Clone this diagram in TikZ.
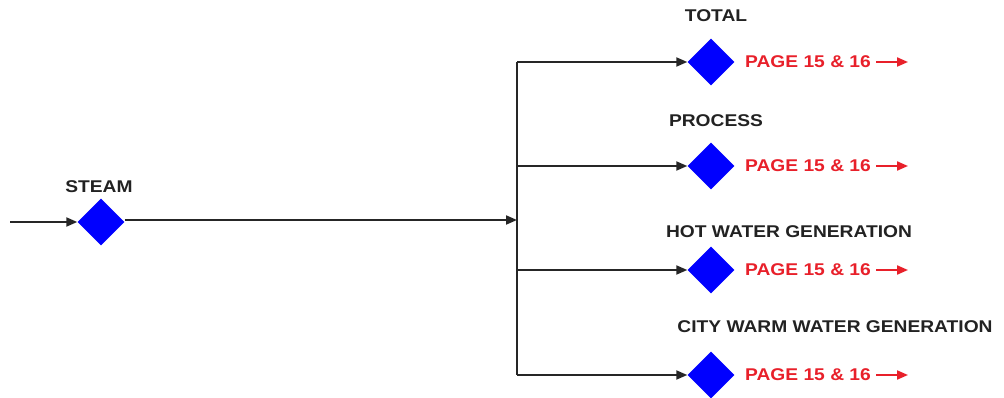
\documentclass[tikz,border=0pt]{standalone}
\usepackage{fontspec}
\setmainfont{Liberation Sans}
\newfontfamily\widesans[FakeStretch=1.13]{Liberation Sans}
\usetikzlibrary{shapes.geometric,arrows.meta}
\definecolor{dia}{HTML}{0000FF}
\definecolor{pg}{HTML}{E8202A}
\definecolor{lbl}{HTML}{222222}
\begin{document}
\begin{tikzpicture}[x=1pt,y=-1pt,
  meter/.style={diamond,fill=dia,draw=none,minimum width=47pt,minimum height=47pt,inner sep=0pt},
  lab/.style={text=lbl,font=\widesans\fontsize{17}{19}\selectfont\bfseries,inner sep=0pt},
  pagetxt/.style={text=pg,font=\widesans\fontsize{17}{19}\selectfont\bfseries,inner sep=0pt,anchor=west},
  flow/.style={draw=black!85,line width=2pt},
  arr/.style={flow,-{Triangle[length=11pt,width=9pt]}},
  redarr/.style={draw=pg,line width=2pt,-{Triangle[length=11pt,width=9pt]}}]
\useasboundingbox (0,0) rectangle (1004,398);
% steam
\coordinate (in) at (10,222);
\node[meter] (s) at (101,222) {};
\node[lab] (sl) at (99,187) {STEAM};
\draw[arr] (in) -- (s.west);
% bus
\coordinate (b0) at (517,62);
\coordinate (bm) at (517,220);
\coordinate (b1) at (517,166);
\coordinate (b2) at (517,270);
\coordinate (b3) at (517,375);
\draw[arr] (s.east |- bm) -- (bm);
\draw[flow] (b0) -- (b3);
% diamonds
\node[meter] (d1) at (711,62) {};
\node[meter] (d2) at (711,166) {};
\node[meter] (d3) at (711,270) {};
\node[meter] (d4) at (711,375) {};
\draw[arr] (b0) -- (d1.west);
\draw[arr] (b1) -- (d2.west);
\draw[arr] (b2) -- (d3.west);
\draw[arr] (b3) -- (d4.west);
% labels
\node[lab] (l1) at (716,16) {TOTAL};
\node[lab] (l2) at (716,121) {PROCESS};
\node[lab] (l3) at (789,232) {HOT WATER GENERATION};
\node[lab] (l4) at (835,327) {CITY WARM WATER GENERATION};
% page refs
\foreach \i/\y in {1/62,2/166,3/270,4/375}{
  \node[pagetxt] (p\i) at (745,\y) {PAGE 15 \& 16};
  \coordinate (e\i) at (908,\y);
  \draw[redarr] ([xshift=5pt]p\i.east) -- (e\i);
}
\end{tikzpicture}
\end{document}
